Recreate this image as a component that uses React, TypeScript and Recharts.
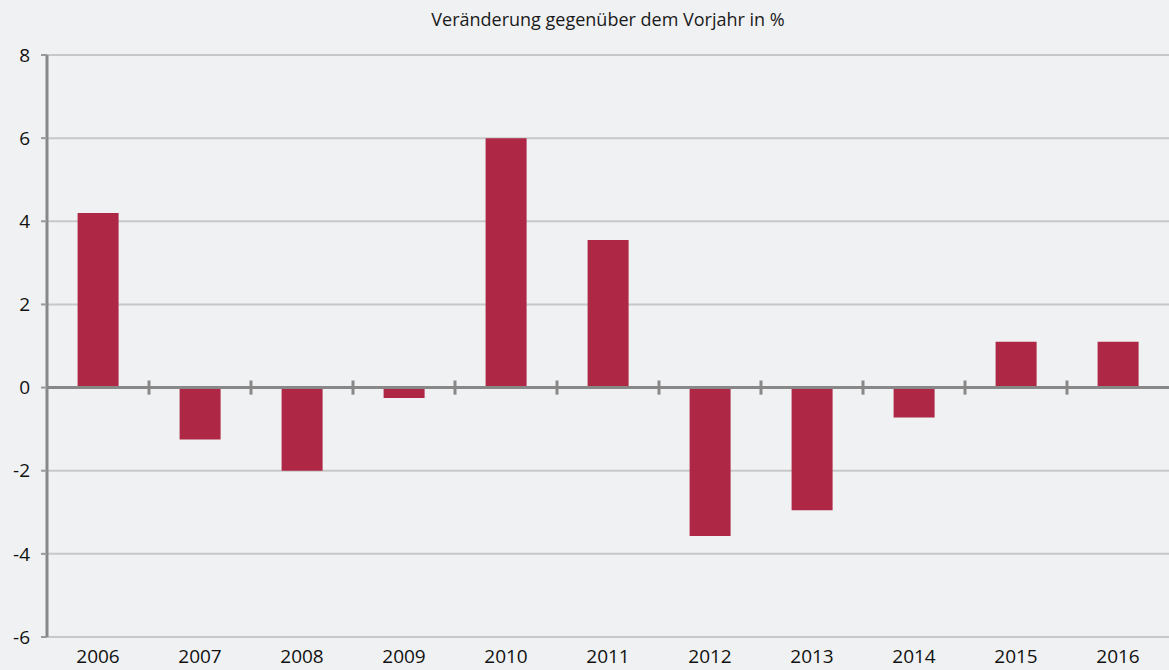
import React from 'react';
import { BarChart, Bar, XAxis, YAxis, CartesianGrid, ReferenceLine } from 'recharts';

const years = ['2006', '2007', '2008', '2009', '2010', '2011', '2012', '2013', '2014', '2015', '2016'];
const change = [4.2, -1.25, -2.0, -0.25, 6.0, 3.55, -3.57, -2.95, -0.72, 1.1, 1.1];
const yTicks = [-6, -4, -2, 0, 2, 4, 6, 8];

const data = years.map((year, i) => ({ year, value: change[i], pos: i + 0.5 }));
// separators between the year groups, sitting on the zero line
const separators = years.slice(1).map((_, i) => i + 1);

const font = '"Open Sans", sans-serif';

export default function App() {
  return (
    <div style={{ position: 'absolute', left: 0, top: 0, width: 1169, height: 670, background: '#f0f1f3', fontFamily: font }}>
      <div style={{ position: 'absolute', left: 47, right: 0, top: 7, textAlign: 'center', fontSize: 18, color: '#1a1a1a' }}>
        Veränderung gegenüber dem Vorjahr in %
      </div>
      <BarChart width={1169} height={670} data={data} margin={{ top: 55, right: 0, left: 0, bottom: 0 }} barCategoryGap="30%">
        <CartesianGrid vertical={false} stroke="#c8c8c8" strokeWidth={2} />
        <XAxis dataKey="year" height={33} axisLine={false} tickLine={false}
          tick={{ fill: '#111', fontSize: 19, fontFamily: font, dy: 5 }} />
        <XAxis xAxisId="sep" dataKey="pos" type="number" domain={[0, years.length]} hide allowDataOverflow />
        <YAxis domain={[-6, 8]} ticks={yTicks} width={47} interval={0}
          axisLine={{ stroke: '#888', strokeWidth: 3 }} tickLine={{ stroke: '#999', strokeWidth: 2 }} tickSize={6}
          tick={{ fill: '#111', fontSize: 19, fontFamily: font, dx: -9 }} />
        <Bar dataKey="value" fill="#ae2846" isAnimationActive={false} />
        <ReferenceLine y={0} stroke="#888" strokeWidth={3} />
        {separators.map((s) => (
          <ReferenceLine key={s} xAxisId="sep" segment={[{ x: s, y: -0.17 }, { x: s, y: 0.17 }]} stroke="#888" strokeWidth={3} />
        ))}
      </BarChart>
    </div>
  );
}
